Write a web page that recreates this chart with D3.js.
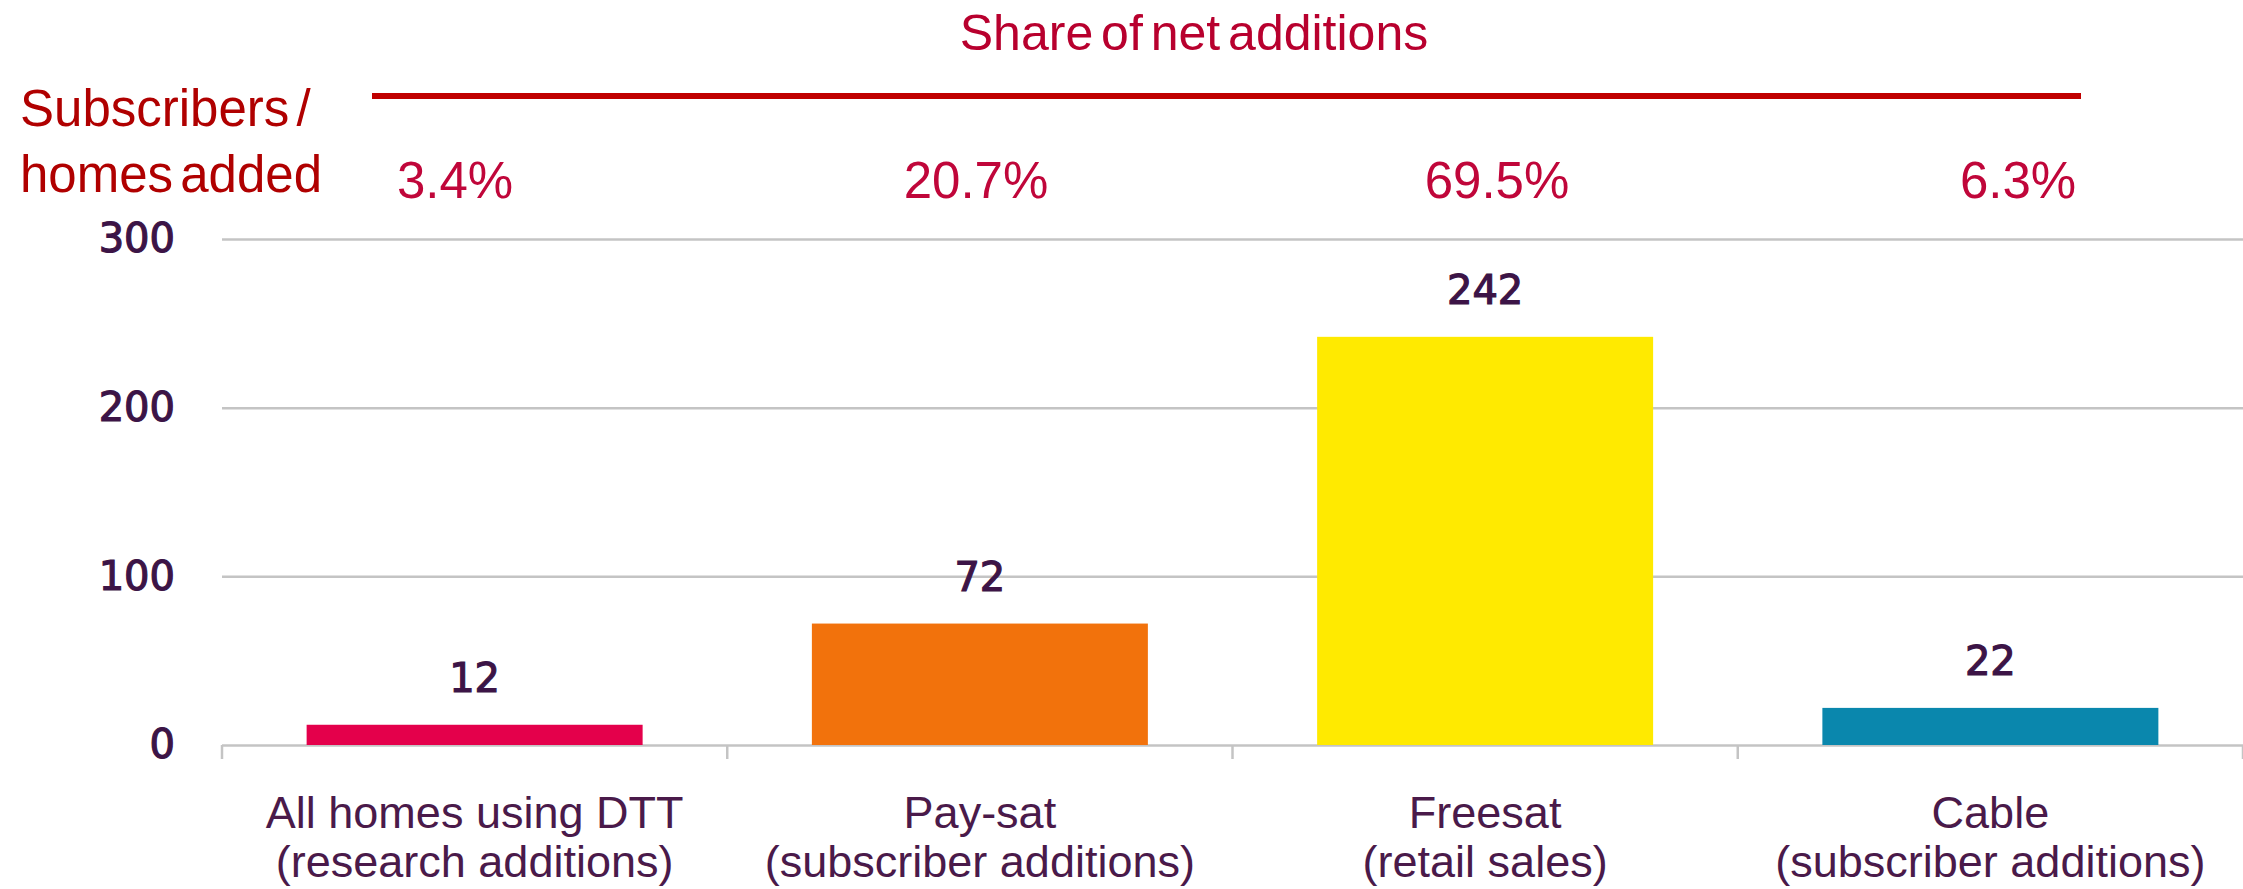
<!DOCTYPE html>
<html>
<head>
<meta charset="utf-8">
<script src="https://cdn.jsdelivr.net/npm/d3@7"></script>
<style>
  body { margin: 0; background: #fff; }
  text { font-family: "Liberation Sans", Arial, sans-serif; }
</style>
</head>
<body>
<div id="chart"></div>
<script>

// DATA
let categories = ["dtt", "paysat", "freesat", "cable"];
let labelLine1 = ["All homes  using DTT", "Pay-sat", "Freesat", "Cable"];
let labelLine2 = ["(research additions)", "(subscriber additions)", "(retail sales)", "(subscriber additions)"];
let values = [12, 72, 242, 22];
let shares = ["3.4%", "20.7%", "69.5%", "6.3%"];
let yTicks = [0, 100, 200, 300];
let colors = ["#e4004b", "#f2720c", "#ffea00", "#0a87ad"];

// CHART AREA
let W = 2243, H = 889;
let margin = {top: 239, right: 0, bottom: 144, left: 222},
    width = W - margin.left - margin.right,
    height = H - margin.top - margin.bottom;

let root = d3.select("#chart").append("svg")
    .attr("width", W)
    .attr("height", H);

let svg = root.append("g")
    .attr("transform", "translate(" + margin.left + "," + margin.top + ")");

// SCALES
let x = d3.scaleBand()
    .domain(categories)
    .range([0, width])
    .paddingInner(0.335)
    .paddingOuter(0.1675);

let y = d3.scaleLinear()
    .domain([0, 300])
    .range([height, 0]);

// share labels sit on their own point scale
let xShare = d3.scalePoint()
    .domain(categories)
    .range([455 - margin.left, 2018 - margin.left]);

// GRIDLINES + Y LABELS
let yAxis = d3.axisLeft(y)
    .tickValues(yTicks)
    .tickSize(-width)
    .tickPadding(47)
    .tickFormat(d3.format("d"));

let yAxisGroup = svg.append("g")
    .attr("class", "y-axis")
    .call(yAxis);

yAxisGroup.select(".domain").remove();
yAxisGroup.selectAll("line")
    .attr("stroke", "#c4c4c4")
    .attr("stroke-width", 2.5);
yAxisGroup.selectAll("text")
    .style("font-family", "'DejaVu Sans', Verdana, sans-serif")
    .attr("font-size", 40)
    .attr("fill", "#3c1446")
    .attr("stroke", "#3c1446")
    .attr("stroke-width", 1.2);

// category boundary ticks
let edges = categories.map(c => x(c) - x.step() * x.paddingInner() / 2);
edges.push(width);
svg.selectAll(".cat-tick")
    .data(edges)
    .enter()
    .append("line")
    .attr("class", "cat-tick")
    .attr("x1", d => d).attr("x2", d => d)
    .attr("y1", height).attr("y2", height + 14)
    .attr("stroke", "#c4c4c4")
    .attr("stroke-width", 2.5);

// BARS
svg.selectAll(".bar")
    .data(values)
    .enter()
    .append("rect")
    .attr("class", "bar")
    .attr("x", (d, i) => x(categories[i]))
    .attr("y", d => y(d))
    .attr("width", x.bandwidth())
    .attr("height", d => height - y(d))
    .attr("fill", (d, i) => colors[i]);

// value labels
svg.selectAll(".val")
    .data(values)
    .enter()
    .append("text")
    .attr("class", "val")
    .attr("x", (d, i) => x(categories[i]) + x.bandwidth() / 2)
    .attr("y", d => y(d) - 33)
    .attr("text-anchor", "middle")
    .style("font-family", "'DejaVu Sans', Verdana, sans-serif")
    .attr("font-size", 40)
    .attr("fill", "#3c1446")
    .attr("stroke", "#3c1446")
    .attr("stroke-width", 1.2)
    .text(d => d);

// category labels
let catLabels = svg.selectAll(".cat")
    .data(categories)
    .enter()
    .append("text")
    .attr("class", "cat")
    .attr("text-anchor", "middle")
    .attr("font-size", 45)
    .attr("fill", "#4a1a4a");

catLabels.append("tspan")
    .attr("x", d => x(d) + x.bandwidth() / 2)
    .attr("y", height + 83)
    .text((d, i) => labelLine1[i]);

catLabels.append("tspan")
    .attr("x", d => x(d) + x.bandwidth() / 2)
    .attr("y", height + 132)
    .text((d, i) => labelLine2[i]);

// SHARE HEADER
root.append("text")
    .attr("x", 1194)
    .attr("y", 50)
    .attr("text-anchor", "middle")
    .attr("font-size", 50)
    .attr("word-spacing", -6)
    .attr("fill", "#b8002e")
    .text("Share of net additions");

root.append("line")
    .attr("x1", 372).attr("x2", 2081)
    .attr("y1", 96).attr("y2", 96)
    .attr("stroke", "#c00000")
    .attr("stroke-width", 6);

svg.selectAll(".share")
    .data(shares)
    .enter()
    .append("text")
    .attr("class", "share")
    .attr("x", (d, i) => xShare(categories[i]))
    .attr("y", 198 - margin.top)
    .attr("text-anchor", "middle")
    .attr("font-size", 51)
    .attr("fill", "#c0063a")
    .text(d => d);

// left header
let leftHead = root.append("text")
    .attr("font-size", 51)
    .attr("word-spacing", -7)
    .attr("fill", "#b00000");
leftHead.append("tspan").attr("x", 20).attr("y", 126).text("Subscribers /");
leftHead.append("tspan").attr("x", 20).attr("y", 192).text("homes added");

</script>
</body>
</html>
